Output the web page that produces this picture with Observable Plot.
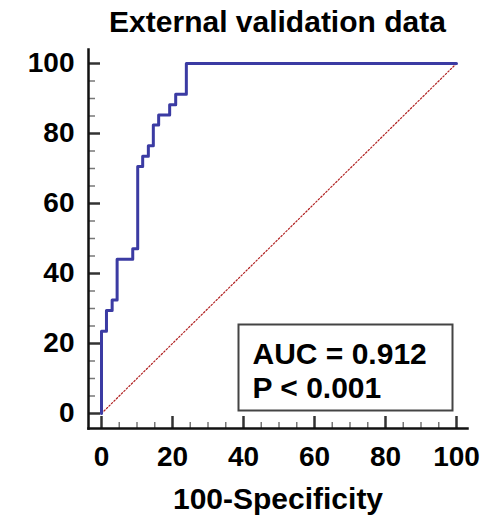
<!DOCTYPE html>
<html>
<head>
<meta charset="utf-8">
<script src="https://cdn.jsdelivr.net/npm/d3@7"></script>
<script src="https://cdn.jsdelivr.net/npm/@observablehq/plot@0.6"></script>
<style>
  html, body { margin: 0; padding: 0; background: #fff; }
  #wrap { width: 503px; height: 518px; position: relative; font-family: "Liberation Sans", Arial, sans-serif; }
  #title { position: absolute; left: 88px; width: 379px; top: 0; height: 44px; line-height: 44px; text-align: center; font-weight: bold; font-size: 30px; color: #000; white-space: nowrap; }
  #chart { position: absolute; left: 0; top: 44px; }
</style>
</head>
<body>
<div id="wrap">
  <div id="title">External validation data</div>
  <div id="chart"></div>
</div>
<script>
// ROC curve corners (100-Specificity, Sensitivity), step-before
const fprValues = [0, 1.4, 3.0, 4.4, 8.8, 10.2, 11.6, 13.2, 14.6, 16.1, 19.2, 20.9, 23.9, 100];
const tprValues = [0, 23.5, 29.4, 32.4, 44.1, 47.1, 70.6, 73.5, 76.5, 82.4, 85.3, 88.2, 91.2, 100];
const diagonalValues = [0, 100];
const majorTicks = [0, 20, 40, 60, 80, 100];
const minorTicks = [5, 10, 15, 25, 30, 35, 45, 50, 55, 65, 70, 75, 85, 90, 95];
const xLabel = "100-Specificity";
const aucText = "AUC = 0.912";
const pText = "P < 0.001";

const rocData = fprValues.map((x, i) => ({x, y: tprValues[i]}));
const diagData = diagonalValues.map(v => ({x: v, y: v}));

const W = 503, H = 474;
const mL = 88, mR = 36, mT = 5, mB = 90;
const frameW = W - mL - mR, frameH = H - mT - mB;
const font = "Liberation Sans, Arial, sans-serif";

const plot = Plot.plot({
  width: W, height: H,
  marginLeft: mL, marginRight: mR, marginTop: mT, marginBottom: mB,
  style: {fontFamily: font, background: "#fff", color: "#000", overflow: "visible"},
  x: {domain: [0, 100], insetLeft: 13, insetRight: 11},
  y: {domain: [0, 100], insetTop: 14, insetBottom: 15},
  marks: [
    // minor ticks
    Plot.tickY(minorTicks, {y: d => d, insetRight: frameW - 7, stroke: "#777", strokeWidth: 1.5}),
    Plot.tickX(minorTicks, {x: d => d, insetTop: frameH - 6, stroke: "#777", strokeWidth: 1.5}),
    // major ticks
    Plot.tickY(majorTicks, {y: d => d, insetRight: frameW - 12, stroke: "#333", strokeWidth: 2.5}),
    Plot.tickX(majorTicks, {x: d => d, insetTop: frameH - 12, stroke: "#333", strokeWidth: 2.5}),
    // tick labels
    Plot.axisY(majorTicks, {anchor: "left", tickSize: 0, tickPadding: 14, fontSize: 28, fontWeight: "bold", label: null, fill: "#000"}),
    Plot.axisX(majorTicks, {anchor: "bottom", tickSize: 0, tickPadding: 18, fontSize: 28, fontWeight: "bold", label: null, fill: "#000"}),
    // axis lines
    Plot.frame({anchor: "left", stroke: "#111", strokeWidth: 2.5}),
    Plot.frame({anchor: "bottom", stroke: "#111", strokeWidth: 2.5}),
    // diagonal
    Plot.line(diagData, {x: "x", y: "y", stroke: "#b02020", strokeWidth: 1.2, strokeDasharray: "1.5,2"}),
    // ROC curve
    Plot.line(rocData, {x: "x", y: "y", curve: "step-before", stroke: "#3b3ba3", strokeWidth: 3}),
    // AUC box
    Plot.frame({insetLeft: 150, insetRight: 15, insetTop: 275, insetBottom: 18, stroke: "#444", strokeWidth: 2, fill: "#fff"}),
    Plot.text([aucText + "\n" + pText], {frameAnchor: "top-left", dx: 164, dy: 348, lineAnchor: "bottom", lineHeight: 1.133, textAnchor: "start", fontSize: 30, fontWeight: "bold", fill: "#000"}),
    // x label
    Plot.text([xLabel], {frameAnchor: "bottom", dy: 80, lineAnchor: "bottom", fontSize: 30, fontWeight: "bold", fill: "#000"})
  ]
});
document.getElementById("chart").appendChild(plot);
</script>
</body>
</html>
